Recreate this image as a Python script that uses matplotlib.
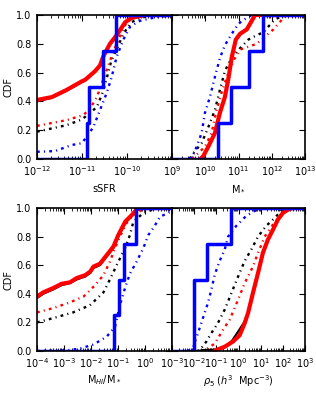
import numpy as np
import matplotlib
matplotlib.use("Agg")
import matplotlib.pyplot as plt
from matplotlib.ticker import LogLocator, NullFormatter, FixedLocator

# ---------------- data (x given as log10 values, y = CDF) ----------------
# Panel 1: sSFR
ssfr_red_x = [-12.0, -11.67, -11.34, -11.0, -10.93, -10.71, -10.6, -10.53, -10.38, -10.23, -10.04, -9.9, -9.6, -9.0]
ssfr_red_y = [0.41, 0.43, 0.48, 0.54, 0.55, 0.61, 0.65, 0.71, 0.80, 0.86, 0.95, 0.98, 1.0, 1.0]
ssfr_blk_x = ssfr_red_x
ssfr_blk_y = [0.40, 0.425, 0.475, 0.535, 0.545, 0.605, 0.645, 0.705, 0.795, 0.855, 0.945, 0.975, 1.0, 1.0]
ssfr_redd_x = [-12.0, -11.34, -10.97, -10.82, -10.67, -10.53, -10.38, -10.27, -10.16, -10.01, -9.78, -9.5, -9.0]
ssfr_redd_y = [0.23, 0.27, 0.305, 0.35, 0.43, 0.55, 0.68, 0.77, 0.85, 0.95, 0.99, 1.0, 1.0]
ssfr_blkd_x = [-12.0, -11.34, -11.0, -10.67, -10.53, -10.46, -10.35, -10.19, -10.08, -9.9, -9.7, -9.4, -9.0]
ssfr_blkd_y = [0.19, 0.235, 0.275, 0.36, 0.47, 0.55, 0.68, 0.79, 0.87, 0.95, 0.98, 1.0, 1.0]
ssfr_blud_x = [-12.0, -11.6, -11.23, -11.0, -10.75, -10.6, -10.45, -10.34, -10.23, -10.08, -9.93, -9.71, -9.42, -9.0]
ssfr_blud_y = [0.05, 0.055, 0.097, 0.11, 0.22, 0.34, 0.46, 0.57, 0.71, 0.83, 0.92, 0.96, 0.98, 1.0]
ssfr_blue_obj = [-10.9, -10.84, -10.53, -10.24]

# Panel 2: M*
ms_red_x = [9.85, 9.94, 10.09, 10.29, 10.44, 10.59, 10.69, 10.80, 10.92, 11.05, 11.25, 11.35, 11.5, 13.0]
ms_red_y = [0.0, 0.02, 0.085, 0.18, 0.32, 0.43, 0.55, 0.71, 0.83, 0.87, 0.90, 0.94, 1.0, 1.0]
ms_blk_x = ms_red_x
ms_blk_y = ms_red_y
ms_redd_x = [9.6, 9.74, 9.99, 10.19, 10.34, 10.49, 10.69, 10.89, 11.05, 11.30, 11.55, 11.80, 12.05, 12.2, 12.35, 12.55, 13.0]
ms_redd_y = [0.0, 0.03, 0.085, 0.18, 0.34, 0.46, 0.60, 0.70, 0.76, 0.78, 0.80, 0.85, 0.90, 0.94, 0.98, 1.0, 1.0]
ms_blkd_x = [9.55, 9.64, 9.89, 10.09, 10.29, 10.44, 10.59, 10.80, 11.05, 11.30, 11.55, 11.75, 11.90, 12.1, 12.3, 12.5, 13.0]
ms_blkd_y = [0.0, 0.04, 0.11, 0.22, 0.34, 0.48, 0.61, 0.71, 0.77, 0.83, 0.86, 0.88, 0.92, 0.97, 0.99, 1.0, 1.0]
ms_blud_x = [9.5, 9.64, 9.74, 9.89, 9.99, 10.14, 10.29, 10.44, 10.59, 10.80, 11.0, 11.25, 11.4, 13.0]
ms_blud_y = [0.0, 0.03, 0.085, 0.18, 0.32, 0.43, 0.57, 0.70, 0.79, 0.87, 0.94, 0.98, 1.0, 1.0]
ms_blue_obj = [10.38, 10.78, 11.32, 11.74]

# Panel 3: M_HI / M*
hi_red_x = [-4.0, -3.77, -3.40, -3.09, -2.78, -2.53, -2.22, -2.03, -1.91, -1.67, -1.42, -1.17, -0.99, -0.73, -0.49, -0.31, -0.15, 1.0]
hi_red_y = [0.38, 0.41, 0.44, 0.47, 0.48, 0.51, 0.53, 0.555, 0.59, 0.61, 0.67, 0.73, 0.81, 0.905, 0.95, 0.99, 1.0, 1.0]
hi_blk_x = hi_red_x
hi_blk_y = [0.37, 0.40, 0.43, 0.46, 0.475, 0.50, 0.52, 0.545, 0.58, 0.60, 0.66, 0.72, 0.80, 0.895, 0.945, 0.985, 1.0, 1.0]
hi_redd_x = [-4.0, -3.40, -2.78, -2.28, -1.85, -1.54, -1.30, -1.11, -0.93, -0.68, -0.43, -0.06, 0.2, 1.0]
hi_redd_y = [0.27, 0.30, 0.34, 0.38, 0.46, 0.53, 0.625, 0.72, 0.80, 0.895, 0.95, 0.99, 1.0, 1.0]
hi_blkd_x = [-4.0, -3.40, -2.66, -2.04, -1.54, -1.30, -1.05, -0.74, -0.56, -0.43, -0.06, 0.31, 0.6, 1.0]
hi_blkd_y = [0.20, 0.23, 0.27, 0.32, 0.41, 0.50, 0.60, 0.72, 0.81, 0.905, 0.965, 0.99, 1.0, 1.0]
hi_blud_x = [-4.0, -2.9, -2.41, -1.91, -1.42, -1.11, -0.93, -0.74, -0.56, -0.31, -0.06, 0.12, 0.31, 0.56, 0.8, 1.0]
hi_blud_y = [0.0, 0.005, 0.017, 0.045, 0.10, 0.17, 0.32, 0.44, 0.54, 0.625, 0.72, 0.81, 0.86, 0.94, 0.96, 0.98]
hi_blue_obj = [-1.14, -0.96, -0.78, -0.33]

# Panel 4: rho_5
rho_red_x = [-1.07, -1.0, -0.62, -0.25, 0.05, 0.28, 0.43, 0.65, 0.88, 1.10, 1.33, 1.56, 1.78, 2.01, 2.31, 2.5, 3.0]
rho_red_y = [0.0, 0.007, 0.03, 0.066, 0.11, 0.195, 0.265, 0.405, 0.545, 0.686, 0.78, 0.85, 0.92, 0.967, 0.995, 1.0, 1.0]
rho_blk_x = [-1.83, -1.6, -1.0, -0.6, -0.3, 0.0, 0.25, 0.43, 0.65, 0.88, 1.10, 1.33, 1.56, 1.78, 2.01, 2.31, 2.5, 3.0]
rho_blk_y = [0.0, 0.007, 0.01, 0.03, 0.07, 0.14, 0.2, 0.265, 0.405, 0.545, 0.686, 0.78, 0.85, 0.92, 0.967, 0.995, 1.0, 1.0]
rho_redd_x = [-1.7, -1.53, -1.07, -0.70, -0.40, -0.02, 0.28, 0.65, 0.88, 1.18, 1.56, 1.93, 2.16, 2.4, 3.0]
rho_redd_y = [0.0, 0.005, 0.052, 0.148, 0.218, 0.358, 0.475, 0.59, 0.686, 0.80, 0.885, 0.955, 0.99, 1.0, 1.0]
rho_blkd_x = [-1.9, -1.75, -1.45, -1.23, -0.93, -0.62, -0.32, -0.02, 0.28, 0.58, 0.88, 1.25, 1.63, 1.93, 2.23, 3.0]
rho_blkd_y = [0.0, 0.005, 0.066, 0.124, 0.195, 0.29, 0.405, 0.52, 0.63, 0.71, 0.80, 0.875, 0.93, 0.98, 1.0, 1.0]
rho_blud_x = [-2.3, -2.2, -2.05, -1.83, -1.68, -1.53, -1.38, -1.23, -1.07, -0.85, -0.62, -0.47, -0.10, 0.35, 0.73, 1.18, 3.0]
rho_blud_y = [0.0, 0.007, 0.03, 0.124, 0.195, 0.265, 0.335, 0.425, 0.535, 0.63, 0.71, 0.80, 0.875, 0.945, 0.98, 1.0, 1.0]
rho_blue_obj = [-2.01, -2.0, -1.43, -0.34]

panels = [
    dict(xlim=(-12, -9), xlabel="sSFR",
         red=(ssfr_red_x, ssfr_red_y), blk=(ssfr_blk_x, ssfr_blk_y),
         redd=(ssfr_redd_x, ssfr_redd_y), blkd=(ssfr_blkd_x, ssfr_blkd_y),
         blud=(ssfr_blud_x, ssfr_blud_y), obj=ssfr_blue_obj),
    dict(xlim=(9, 13), xlabel=r"M$_*$",
         red=(ms_red_x, ms_red_y), blk=(ms_blk_x, ms_blk_y),
         redd=(ms_redd_x, ms_redd_y), blkd=(ms_blkd_x, ms_blkd_y),
         blud=(ms_blud_x, ms_blud_y), obj=ms_blue_obj),
    dict(xlim=(-4, 1), xlabel=r"M$_{HI}$/M$_*$",
         red=(hi_red_x, hi_red_y), blk=(hi_blk_x, hi_blk_y),
         redd=(hi_redd_x, hi_redd_y), blkd=(hi_blkd_x, hi_blkd_y),
         blud=(hi_blud_x, hi_blud_y), obj=hi_blue_obj),
    dict(xlim=(-3, 3), xlabel=r"$\rho_5$ ($h^3$  Mpc$^{-3}$)",
         red=(rho_red_x, rho_red_y), blk=(rho_blk_x, rho_blk_y),
         redd=(rho_redd_x, rho_redd_y), blkd=(rho_blkd_x, rho_blkd_y),
         blud=(rho_blud_x, rho_blud_y), obj=rho_blue_obj),
]

plt.rcParams['font.family'] = ['DejaVu Sans']
plt.rcParams['font.size'] = 7
plt.rcParams['lines.scale_dashes'] = False

fig = plt.figure(figsize=(3.16, 4.0), dpi=100)
W, H = 316.0, 400.0
rects = [
    (37, 15, 172, 159), (172, 15, 305, 159),
    (37, 208, 172, 351), (172, 208, 305, 351),
]
dd = (0, (2.0, 3.0, 0.8, 3.0))

for i, (p, r) in enumerate(zip(panels, rects)):
    x0, y0, x1, y1 = r
    ax = fig.add_axes([x0 / W, 1 - y1 / H, (x1 - x0) / W, (y1 - y0) / H])
    ax.set_xscale('log')
    lo, hi = 10.0 ** p['xlim'][0], 10.0 ** p['xlim'][1]

    def X(a):
        return np.power(10.0, np.asarray(a, dtype=float))

    ax.plot(X(p['blkd'][0]), p['blkd'][1], color='k', lw=1.7, ls=dd)
    ax.plot(X(p['redd'][0]), p['redd'][1], color='r', lw=1.7, ls=dd)
    ax.plot(X(p['blud'][0]), p['blud'][1], color='b', lw=1.7, ls=dd)
    ax.plot(X(p['blk'][0]), p['blk'][1], color='k', lw=1.5)
    ax.plot(X(p['red'][0]), p['red'][1], color='r', lw=3)

    obj = np.sort(X(p['obj']))
    n = len(obj)
    sx = np.concatenate([[lo], obj, [hi]])
    sy = np.concatenate([[0.0], np.arange(1, n + 1) / n, [1.0]])
    ax.step(sx, sy, where='post', color='b', lw=2.5)

    ax.set_xlim(lo, hi)
    ax.set_ylim(0, 1)
    ax.set_yticks([0.0, 0.2, 0.4, 0.6, 0.8, 1.0])
    decades = np.arange(p['xlim'][0], p['xlim'][1] + 1)
    ax.xaxis.set_major_locator(FixedLocator(10.0 ** decades))
    ax.xaxis.set_minor_locator(LogLocator(base=10, subs=np.arange(2, 10), numticks=50))
    ax.xaxis.set_minor_formatter(NullFormatter())
    labels = [r"$10^{%d}$" % d for d in decades]
    if i % 2 == 0:
        labels[-1] = ""
    ax.set_xticklabels(labels)
    ax.tick_params(which='both', direction='in', top=True, right=True, labelsize=7, pad=4)
    ax.tick_params(which='major', length=4, width=0.8)
    ax.tick_params(which='minor', length=2, width=0.6)
    for s in ax.spines.values():
        s.set_linewidth(1.2)
    if i % 2 == 0:
        ax.set_ylabel("CDF", fontsize=7, labelpad=2)
        ax.set_yticklabels(["0.0", "0.2", "0.4", "0.6", "0.8", "1.0"])
    else:
        ax.set_yticklabels([])
    ax.set_xlabel(p['xlabel'], fontsize=7, labelpad=2 if i >= 2 else 4)

fig.savefig("out.png", dpi=100)
